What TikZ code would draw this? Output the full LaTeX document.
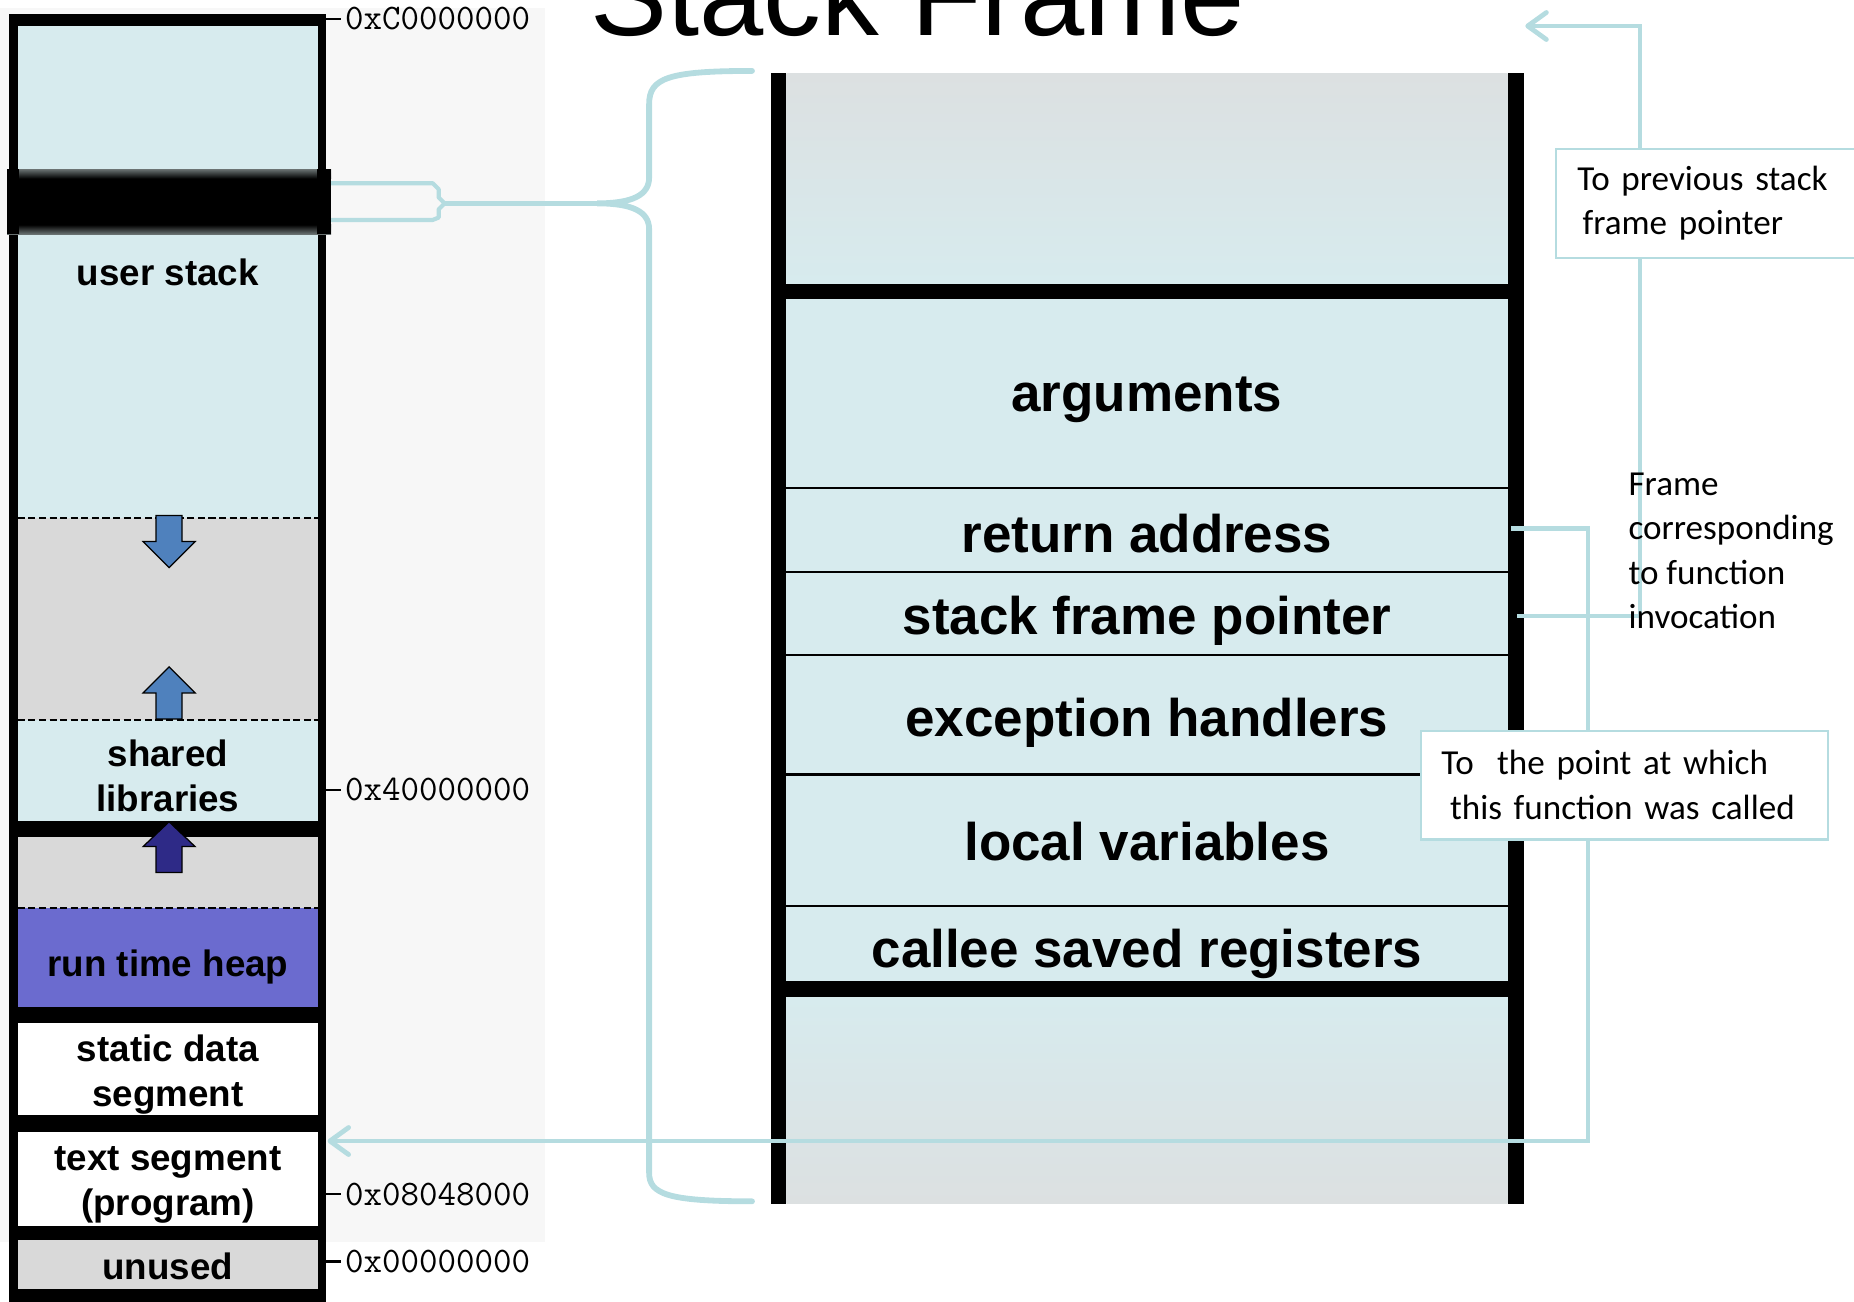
\documentclass[tikz,border=0pt]{standalone}
\usepackage{fontspec}
\usetikzlibrary{arrows.meta}
\newfontfamily\lsans{Liberation Sans}
\newfontfamily\callf{Carlito}
\definecolor{lblue}{HTML}{D7EBEE}
\definecolor{sgray}{HTML}{D9D9D9}
\definecolor{heapc}{HTML}{6B6BCF}
\definecolor{arrc}{HTML}{4F81BD}
\definecolor{darrc}{HTML}{2E2A87}
\definecolor{cyanl}{HTML}{B5DCE0}
\definecolor{fgray}{HTML}{DCE0E1}
\definecolor{panel}{HTML}{F7F7F7}
\definecolor{bandg}{HTML}{6A7272}

\begin{document}
\begin{tikzpicture}[
  x=0.02cm,y=-0.02cm,
  seg/.style={font=\lsans\bfseries\fontsize{17.7}{21.5}\selectfont,align=center,inner sep=0pt},
  fr/.style={font=\lsans\bfseries\fontsize{25.5}{30}\selectfont,inner sep=0pt},
  addr/.style={font=\ttfamily\fontsize{17.3}{20}\selectfont,anchor=west,inner xsep=2pt,inner ysep=0pt},
  note/.style={font=\callf\fontsize{16.9}{21.4}\selectfont,align=left},
  callout/.style={note,draw=cyanl,line width=1.1pt,fill=white,anchor=north west,minimum height=1.84cm},
  conn/.style={draw=cyanl,line width=2.3pt},
  tip/.style={-{Straight Barb[length=9pt,width=13pt,round]}},
  sepline/.style={dash pattern=on 3.4pt off 1.7pt,line width=0.8pt},
  blk/.style={fill=arrc,draw=black,line width=0.6pt}
]
\useasboundingbox (0,0) rectangle (1568,1101);
\clip (0,0) rectangle (1568,1101);

% address panel
\fill[panel] (0,7) rectangle (461,1050);

% memory layout column
\fill[black] (8,12) rectangle (276,1110);
\fill[lblue] (15,22) rectangle (269,438);
\fill[sgray] (15,438) rectangle (269,609);
\fill[lblue] (15,609) rectangle (269,694);
\fill[sgray] (15,708) rectangle (269,768);
\fill[heapc] (15,768) rectangle (269,852);
\fill[white] (15,865) rectangle (269,943);
\fill[white] (15,957) rectangle (269,1037);
\fill[sgray] (15,1049) rectangle (269,1090);
\foreach \y in {438,609,768} \draw[sepline] (15,\y) -- (269,\y);

% current frame band
\fill (6,150) rectangle (280,191);
\shade[top color=bandg,bottom color=black] (6,143) rectangle (280,151);
\shade[top color=black,bottom color=bandg] (6,190) rectangle (280,198);
\fill (6,143) rectangle (16,198);
\fill (268,143) rectangle (280,198);

\filldraw[blk] (132,436) -- (154,436) -- (154,458) -- (165,458) -- (143,480) -- (121,458) -- (132,458) -- cycle;
\filldraw[blk] (143,564) -- (165,586) -- (154,586) -- (154,608) -- (132,608) -- (132,586) -- (121,586) -- cycle;
\filldraw[blk,fill=darrc] (143,695) -- (165,716) -- (154,716) -- (154,738) -- (132,738) -- (132,716) -- (121,716) -- cycle;

\node[seg] (ustack) at (142,230) {user stack};
\node[seg] (shlib) at (142,656) {shared\\libraries};
\node[seg] (heap) at (142,818) {run time heap};
\node[seg] (sdata) at (142,909) {static data\\segment};
\node[seg] (tseg) at (142,1002) {text segment\\(program)};
\node[seg] (unused) at (142,1071) {unused};

\foreach \y/\nm/\lab in {16/addrC/0xC0000000,668/addrF/0x40000000,1010/addrP/0x08048000,1067/addrZ/0x00000000} {
  \node[addr] (\nm) at (288,\y) {\lab};
  \draw[line width=1.2pt] (276,\y) -- (\nm);
}

\node[font=\lsans\fontsize{55.6}{60}\selectfont,anchor=base,inner sep=0pt] (title) at (776,30) {Stack Frame};

% stack frame
\shade[top color=fgray,bottom color=lblue] (665,62) rectangle (1275,240);
\fill[lblue] (665,253) rectangle (1275,830);
\shade[top color=lblue,bottom color=fgray] (665,843) rectangle (1275,1018);
\foreach \y in {413,484,554,655,766} \draw[line width=1.1pt] (665,\y) -- (1275,\y);
\fill (652,62) rectangle (665,1018);
\fill (1275,62) rectangle (1289,1018);
\fill (652,240) rectangle (1289,253);
\fill (652,830) rectangle (1289,843);

\node[fr] (args) at (970,338) {arguments};
\node[fr] (retaddr) at (970,451) {return address};
\node[fr] (sfp) at (970,525) {stack frame pointer};
\node[fr] (exch) at (970,611) {exception handlers};
\node[fr] (locvars) at (970,712) {local variables};
\node[fr] (callee) at (970,807) {callee saved registers};

% brace from the band to the frame
\coordinate (bandR) at (376,172);
\coordinate (btip) at (505,172);
\draw[conn,line width=2pt,line join=round] (280,155) -- (366,155) -- (371,160) -- (371,167) -- (bandR) -- (371,177) -- (371,184) -- (366,186) -- (280,186);
\draw[conn] (bandR) -- (btip);
\draw[conn,line width=2.8pt,line cap=round] (636,60) .. controls (565,60) and (549,66) .. (549,88) -- (549,150) .. controls (549,165) and (535,172) .. (btip) .. controls (535,172) and (549,179) .. (549,194) -- (549,992) .. controls (549,1010) and (565,1016) .. (636,1016);

% pointers
\coordinate (raout) at (1278,447);
\coordinate (sfout) at (1283,521);
\coordinate (tsegin) at (277,965);
\coordinate (prevsf) at (1290,22);
\draw[conn,tip] (raout) -- (1343,447) |- (tsegin);
\draw[conn,tip] (sfout) -- (1387,521) |- (prevsf);

\node[callout,text width=4.78cm,inner xsep=0.36cm] (prevbox) at (1315,125) {To previous stack\\\hspace*{0.15em}frame pointer};
\node[callout,text width=6.2cm,inner xsep=0.34cm] (callbox) at (1201,617) {To\ \ the point at which\\\hspace*{0.25em}this function was called};
\node[note,anchor=west,inner sep=0pt] (fnote) at (1377,466) {Frame\\corresponding\\to function\\invocation};
\end{tikzpicture}
\end{document}
